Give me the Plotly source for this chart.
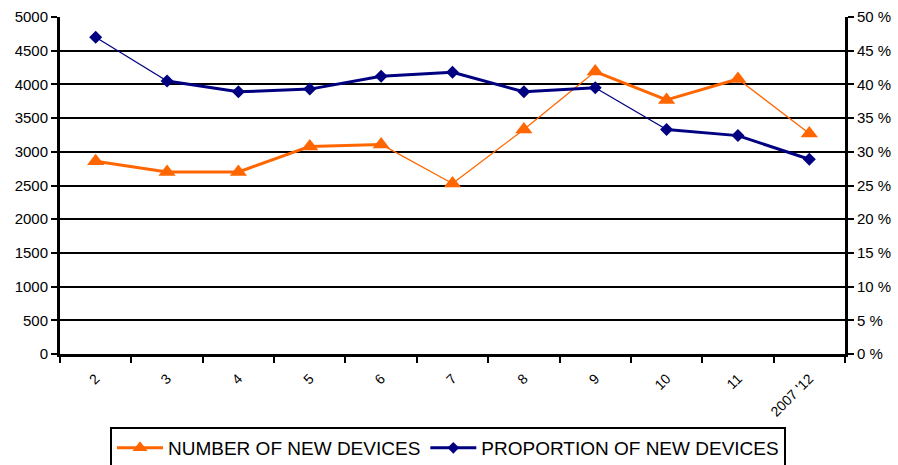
import plotly.graph_objects as go

# Monthly figures
months = ["2", "3", "4", "5", "6", "7", "8", "9", "10", "11", "2007 '12"]
new_devices = [2860, 2700, 2700, 3080, 3110, 2530, 3330, 4190, 3770, 4080, 3270]
new_device_share = [47.0, 40.5, 38.9, 39.3, 41.2, 41.8, 38.9, 39.5, 33.3, 32.4, 28.9]

ORANGE = "#FF6600"
NAVY = "#000080"
FONT = "Liberation Sans, Arial, sans-serif"

# Per-segment line weights (steep segments drawn with a hairline)
orange_widths = [3, 3, 3, 3, 1.3, 1.3, 1.3, 3, 3, 1.3]
navy_widths = [1.3, 3, 3, 3, 3, 3, 3, 1.3, 3, 3]

fig = go.Figure()

for i in range(len(months) - 1):
    fig.add_trace(go.Scatter(
        x=months[i:i + 2], y=new_devices[i:i + 2], mode="lines",
        line=dict(color=ORANGE, width=orange_widths[i]),
        showlegend=False, hoverinfo="skip", yaxis="y"))
    fig.add_trace(go.Scatter(
        x=months[i:i + 2], y=new_device_share[i:i + 2], mode="lines",
        line=dict(color=NAVY, width=navy_widths[i]),
        showlegend=False, hoverinfo="skip", yaxis="y2"))

# Markers
fig.add_trace(go.Scatter(
    x=months, y=new_devices, mode="markers",
    marker=dict(symbol="triangle-up", size=15, color=ORANGE),
    showlegend=False, yaxis="y"))
fig.add_trace(go.Scatter(
    x=months, y=new_device_share, mode="markers",
    marker=dict(symbol="diamond", size=10, color=NAVY),
    showlegend=False, yaxis="y2"))

# Legend entries (line + marker sample)
fig.add_trace(go.Scatter(
    x=[None], y=[None], mode="lines+markers",
    name="NUMBER OF NEW DEVICES",
    marker=dict(symbol="triangle-up", size=13, color=ORANGE),
    line=dict(color=ORANGE, width=3), yaxis="y"))
fig.add_trace(go.Scatter(
    x=[None], y=[None], mode="lines+markers",
    name="PROPORTION OF NEW DEVICES",
    marker=dict(symbol="diamond", size=9, color=NAVY),
    line=dict(color=NAVY, width=3), yaxis="y2"))

fig.update_layout(
    width=898, height=465,
    margin=dict(l=60, r=53, t=17, b=111, autoexpand=False),
    paper_bgcolor="white", plot_bgcolor="white",
    font=dict(family=FONT, size=13, color="black"),
    xaxis=dict(
        type="category", tickangle=-45, tickson="boundaries",
        ticks="outside", ticklen=6, tickwidth=2, tickcolor="black",
        showline=True, linecolor="black", linewidth=3,
        showgrid=False, tickfont=dict(size=14), automargin=False,
        ticklabelstandoff=8, range=[-0.5, 10.5]),
    yaxis=dict(
        range=[0, 5000], dtick=500, ticks="outside", ticklen=6,
        tickwidth=2, tickcolor="black",
        showline=True, linecolor="black", linewidth=3,
        showgrid=True, gridcolor="black", gridwidth=2,
        zeroline=False, tickfont=dict(size=15), automargin=False),
    yaxis2=dict(
        range=[0, 50], dtick=5, overlaying="y", side="right",
        ticksuffix=" %", ticks="outside", ticklen=6, tickwidth=2,
        tickcolor="black", showline=True, linecolor="black", linewidth=3,
        showgrid=False, zeroline=False, tickfont=dict(size=15),
        automargin=False),
    legend=dict(
        orientation="h", x=0.0637, y=-0.2166, xanchor="left", yanchor="top",
        bordercolor="black", borderwidth=2, bgcolor="white",
        font=dict(size=19), itemwidth=46, tracegroupgap=0),
)

fig.write_html("out.html")
